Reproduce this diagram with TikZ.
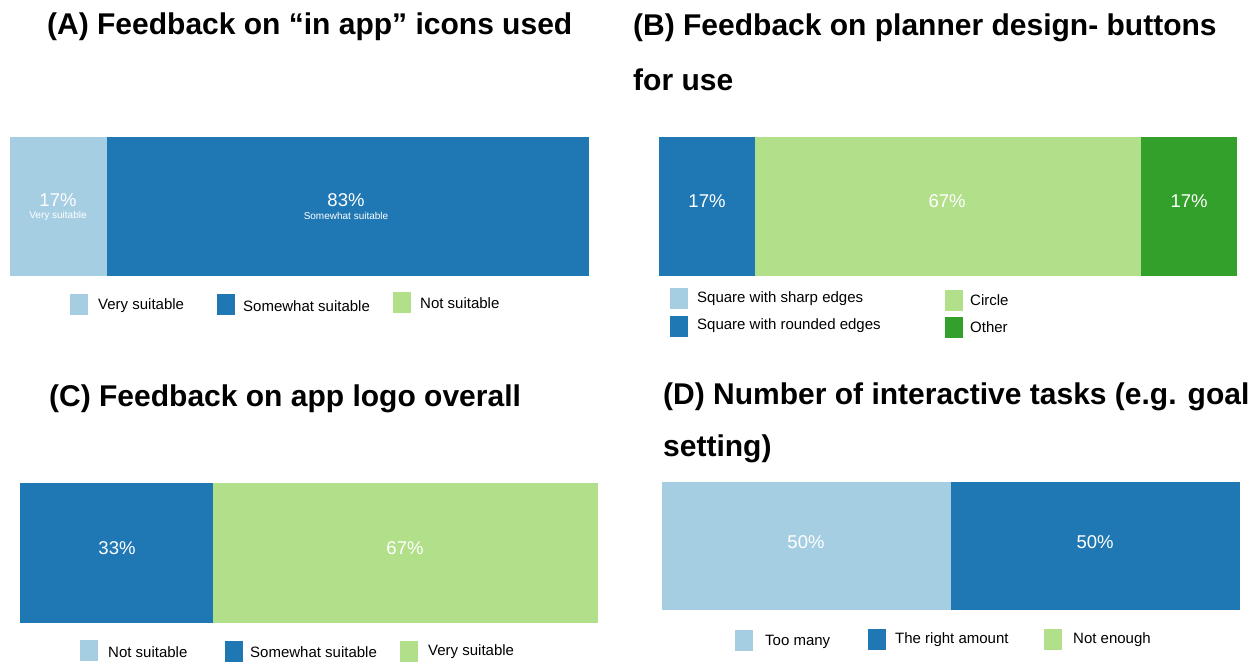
\documentclass[tikz,border=0pt]{standalone}
\usepackage{fontspec}
\setmainfont{Liberation Sans}
\begin{document}
\begin{tikzpicture}[x=1pt,y=-1pt,
  title/.style={font=\fontsize{30}{34}\selectfont\bfseries, anchor=west, inner sep=0pt},
  seg/.style={inner sep=0pt, draw=none},
  pct/.style={text=white, font=\fontsize{18.5}{21}\selectfont, inner sep=0pt},
  sub/.style={text=white, font=\fontsize{10}{12}\selectfont, inner sep=0pt},
  leg/.style={font=\fontsize{15}{17}\selectfont, anchor=west, inner sep=0pt},
  key/.style={minimum width=18pt, minimum height=21pt, inner sep=0pt, draw=none}]
\definecolor{lb}{HTML}{A6CEE3}
\definecolor{db}{HTML}{1F78B4}
\definecolor{lg}{HTML}{B2DF8A}
\definecolor{dg}{HTML}{33A02C}
\useasboundingbox (0,0) rectangle (1257,663);
% ---------- Panel A
\node[title] (tA) at (47,27) {(A) Feedback on “in app” icons used};
\fill[lb] (10,137) rectangle (107,276);
\fill[db] (107,137) rectangle (589,276);
\node[pct] (pA1) at (58,200) {17\%};
\node[sub] (sA1) at (58,216) {Very suitable};
\node[pct] (pA2) at (346,200) {83\%};
\node[sub] (sA2) at (346,216) {Somewhat suitable};
\node[key, fill=lb] (kA1) at (79,304) {};
\node[leg] (lA1) at (98,306) {Very suitable};
\node[key, fill=db] (kA2) at (226,304) {};
\node[leg] (lA2) at (243,306) {Somewhat suitable};
\node[key, fill=lg] (kA3) at (402,302) {};
\node[leg] (lA3) at (420,303) {Not suitable};
% ---------- Panel B
\node[title] (tB1) at (633,28) {(B) Feedback on planner design- buttons};
\node[title] (tB2) at (633,80) {for use};
\fill[db] (659,137) rectangle (755,276);
\fill[lg] (755,137) rectangle (1141,276);
\fill[dg] (1141,137) rectangle (1237,276);
\node[pct] (pB1) at (707,201) {17\%};
\node[pct] (pB2) at (947,201) {67\%};
\node[pct] (pB3) at (1189,201) {17\%};
\node[key, fill=lb] (kB1) at (679,298) {};
\node[leg] (lB1) at (697,299) {Square with sharp edges};
\node[key, fill=db] (kB2) at (679,326) {};
\node[leg] (lB2) at (697,326) {Square with rounded edges};
\node[key, fill=lg] (kB3) at (954,300) {};
\node[leg] (lB3) at (970,300) {Circle};
\node[key, fill=dg] (kB4) at (954,327) {};
\node[leg] (lB4) at (970,327) {Other};
% ---------- Panel C
\node[title] (tC) at (49,399) {(C) Feedback on app logo overall};
\fill[db] (20,483) rectangle (213,623);
\fill[lg] (213,483) rectangle (598,623);
\node[pct] (pC1) at (117,548) {33\%};
\node[pct] (pC2) at (405,548) {67\%};
\node[key, fill=lb] (kC1) at (89,650) {};
\node[leg] (lC1) at (108,652) {Not suitable};
\node[key, fill=db] (kC2) at (234,651) {};
\node[leg] (lC2) at (250,652) {Somewhat suitable};
\node[key, fill=lg] (kC3) at (409,651) {};
\node[leg] (lC3) at (428,652) {Very suitable};
% ---------- Panel D
\node[title] (tD1) at (663,397) {(D) Number of interactive tasks (e.g. goal};
\node[title] (tD2) at (663,449) {setting)};
\fill[lb] (662,482) rectangle (951,610);
\fill[db] (951,482) rectangle (1240,610);
\node[pct] (pD1) at (806,542) {50\%};
\node[pct] (pD2) at (1095,542) {50\%};
\node[key, fill=lb] (kD1) at (744,640) {};
\node[leg] (lD1) at (765,642) {Too many};
\node[key, fill=db] (kD2) at (877,639) {};
\node[leg] (lD2) at (895,640) {The right amount};
\node[key, fill=lg] (kD3) at (1053,639) {};
\node[leg] (lD3) at (1073,640) {Not enough};
\end{tikzpicture}
\end{document}
